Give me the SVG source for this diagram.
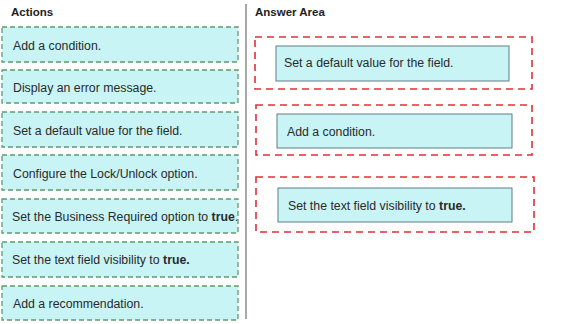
<svg xmlns="http://www.w3.org/2000/svg" width="571" height="324" viewBox="0 0 571 324">
<style>
text{font-family:"Liberation Sans",Arial,sans-serif;font-size:12.3px;fill:#2a2a2a}
.h{font-weight:bold;fill:#222;font-size:11.5px}
.b{font-weight:bold}
.act{fill:#c9f4f6;stroke:#5e9a72;stroke-width:1.3;stroke-dasharray:5 3}
.zone{fill:none;stroke:#e0303a;stroke-width:1.6;stroke-dasharray:7 5}
.ans{fill:#c9f4f6;stroke:#5f7f85;stroke-width:1}
</style>
<rect width="571" height="324" fill="#ffffff"/>
<text class="h" x="11" y="16">Actions</text>
<text class="h" x="255" y="16">Answer Area</text>
<line x1="246" y1="4" x2="246" y2="319" stroke="#a8a8a8" stroke-width="2"/>
<g id="actions">
<g id="a1"><rect class="act" x="2" y="27" width="236" height="35"/><text x="13" y="50">Add a condition.</text></g>
<g id="a2"><rect class="act" x="2" y="70" width="236" height="33"/><text x="13" y="92">Display an error message.</text></g>
<g id="a3"><rect class="act" x="2" y="112" width="236" height="35"/><text x="13" y="135">Set a default value for the field.</text></g>
<g id="a4"><rect class="act" x="2" y="155" width="236" height="35"/><text x="13" y="178">Configure the Lock/Unlock option.</text></g>
<g id="a5"><rect class="act" x="2" y="199" width="236" height="34"/><text x="12" y="221">Set the Business Required option to <tspan class="b">true</tspan>.</text></g>
<g id="a6"><rect class="act" x="2" y="242" width="236" height="35"/><text x="12" y="264">Set the text field visibility to <tspan class="b">true.</tspan></text></g>
<g id="a7"><rect class="act" x="2" y="286" width="236" height="34"/><text x="13" y="308">Add a recommendation.</text></g>
</g>
<g id="answers">
<g id="z1"><rect class="zone" x="255" y="37" width="277" height="52"/><rect class="ans" x="276" y="46" width="233" height="35"/><text x="284" y="67">Set a default value for the field.</text></g>
<g id="z2"><rect class="zone" x="256" y="105" width="276" height="50"/><rect class="ans" x="277" y="114" width="235" height="34"/><text x="287" y="136">Add a condition.</text></g>
<g id="z3"><rect class="zone" x="256" y="177" width="278" height="55"/><rect class="ans" x="278" y="188" width="234" height="34"/><text x="288" y="210">Set the text field visibility to <tspan class="b">true.</tspan></text></g>
</g>
<g id="connectors"/>
</svg>
